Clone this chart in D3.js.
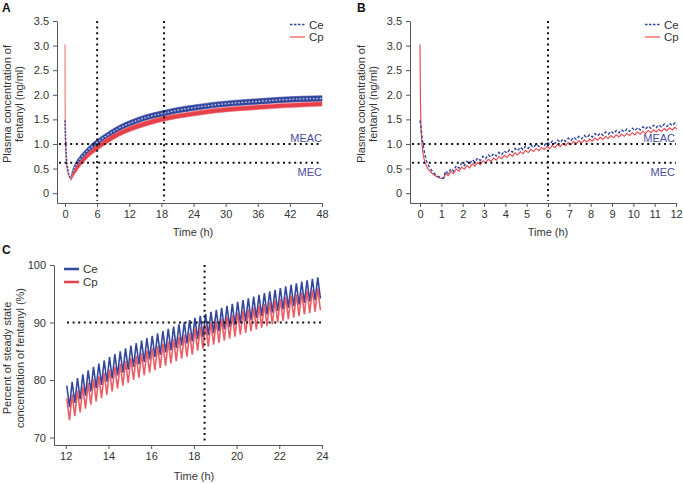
<!DOCTYPE html>
<html>
<head>
<meta charset="utf-8">
<script src="https://cdn.jsdelivr.net/npm/d3@7"></script>
<style>
  body { margin: 0; background: #fff; }
  svg { font-family: "Liberation Sans", Arial, sans-serif; }
  .axis path, .axis line { stroke: #555; stroke-width: 1; }
  .axis text { fill: #333; font-size: 11px; font-family: "Liberation Sans", Arial, sans-serif; }
</style>
</head>
<body>
<svg id="chart" width="683" height="484"></svg>
<script>
// ---- data ----
// first hour after the loading dose (panels A and B)
var earlyT  = [0, 0.02, 0.05, 0.1, 0.15, 0.22, 0.3, 0.4, 0.55, 0.7, 0.85, 1.0, 1.1];
var cpEarly = [3.02, 1.90, 1.25, 0.95, 0.78, 0.64, 0.55, 0.48, 0.41, 0.36, 0.32, 0.30, 0.30];
var ceEarly = [1.48, 1.42, 1.32, 1.12, 0.97, 0.80, 0.66, 0.56, 0.46, 0.39, 0.34, 0.31, 0.30];

// panel A: upper / lower edge of the oscillating band, 1.1 - 48 h
var aT    = [1.1, 1.5, 2, 3, 4, 6, 8, 10, 12, 15, 18, 21, 24, 28, 32, 36, 40, 44, 48];
var aCeHi = [0.34, 0.50, 0.62, 0.78, 0.90, 1.09, 1.24, 1.37, 1.47, 1.59, 1.67, 1.74, 1.79, 1.85, 1.89, 1.92, 1.95, 1.97, 1.98];
var aCeLo = [0.28, 0.40, 0.51, 0.67, 0.79, 0.98, 1.13, 1.26, 1.36, 1.48, 1.56, 1.63, 1.68, 1.74, 1.78, 1.81, 1.84, 1.86, 1.87];
var aCpHi = [0.30, 0.42, 0.52, 0.67, 0.79, 0.98, 1.13, 1.25, 1.35, 1.46, 1.55, 1.61, 1.66, 1.72, 1.76, 1.79, 1.82, 1.84, 1.86];
var aCpLo = [0.26, 0.34, 0.42, 0.57, 0.69, 0.87, 1.02, 1.15, 1.25, 1.36, 1.45, 1.52, 1.57, 1.63, 1.67, 1.70, 1.73, 1.75, 1.77];

// panel B: one peak and one trough per 15 min dose, starting 1.2 h
var bStart = 1.2, bEvery = 0.25;
var bCePeak   = [0.45, 0.50, 0.56, 0.61, 0.645, 0.68, 0.715, 0.75, 0.78, 0.805, 0.83, 0.86, 0.885, 0.91, 0.935, 0.96,
                 0.98, 1.00, 1.02, 1.04, 1.06, 1.08, 1.10, 1.12, 1.14, 1.155, 1.175, 1.19, 1.21, 1.225, 1.245, 1.26,
                 1.275, 1.29, 1.305, 1.32, 1.335, 1.35, 1.365, 1.38, 1.39, 1.405, 1.42, 1.43];
var bCeTrough = [0.40, 0.45, 0.51, 0.56, 0.595, 0.63, 0.665, 0.70, 0.73, 0.755, 0.78, 0.81, 0.835, 0.86, 0.885, 0.91,
                 0.93, 0.95, 0.97, 0.99, 1.01, 1.03, 1.05, 1.07, 1.09, 1.105, 1.125, 1.14, 1.16, 1.175, 1.195, 1.21,
                 1.225, 1.24, 1.255, 1.27, 1.285, 1.30, 1.315, 1.33, 1.34, 1.355, 1.37, 1.38];
var bCpPeak   = [0.40, 0.44, 0.49, 0.53, 0.56, 0.595, 0.625, 0.66, 0.69, 0.715, 0.745, 0.77, 0.795, 0.82, 0.845, 0.87,
                 0.89, 0.91, 0.93, 0.95, 0.97, 0.99, 1.01, 1.03, 1.05, 1.065, 1.085, 1.10, 1.12, 1.135, 1.155, 1.17,
                 1.185, 1.20, 1.215, 1.23, 1.245, 1.26, 1.275, 1.29, 1.30, 1.315, 1.33, 1.34];
var bCpTrough = [0.355, 0.395, 0.445, 0.485, 0.515, 0.55, 0.58, 0.615, 0.645, 0.67, 0.70, 0.725, 0.75, 0.775, 0.80, 0.825,
                 0.845, 0.865, 0.885, 0.905, 0.925, 0.945, 0.965, 0.985, 1.005, 1.02, 1.04, 1.055, 1.075, 1.09, 1.11, 1.125,
                 1.14, 1.155, 1.17, 1.185, 1.20, 1.215, 1.23, 1.245, 1.255, 1.27, 1.285, 1.295];

// panel C: percent of steady state, 12 - 24 h
var cStart = 12.05, cEvery = 0.25;
var cCePeak   = [79.0, 79.7, 80.35, 81.0, 81.7, 82.3, 82.85, 83.4, 84.0, 84.5, 85.0, 85.5,
                 86.0, 86.4, 86.85, 87.3, 87.7, 88.1, 88.5, 88.9, 89.3, 89.7, 90.05, 90.4,
                 90.8, 91.15, 91.5, 91.85, 92.2, 92.55, 92.9, 93.25, 93.6, 93.9, 94.2, 94.5,
                 94.8, 95.1, 95.4, 95.7, 96.0, 96.3, 96.55, 96.8, 97.1, 97.35, 97.6, 97.85];
var cCeTrough = [75.3, 76.0, 76.65, 77.3, 78.0, 78.6, 79.15, 79.7, 80.3, 80.8, 81.3, 81.8,
                 82.3, 82.7, 83.15, 83.6, 84.0, 84.4, 84.8, 85.2, 85.6, 86.0, 86.35, 86.7,
                 87.1, 87.45, 87.8, 88.15, 88.5, 88.85, 89.2, 89.55, 89.9, 90.2, 90.5, 90.8,
                 91.1, 91.4, 91.7, 92.0, 92.3, 92.6, 92.85, 93.1, 93.4, 93.65, 93.9, 94.15];
var cCpPeak   = [76.8, 77.5, 78.15, 78.8, 79.5, 80.1, 80.65, 81.2, 81.8, 82.3, 82.8, 83.3,
                 83.8, 84.2, 84.65, 85.1, 85.5, 85.9, 86.3, 86.7, 87.1, 87.5, 87.85, 88.2,
                 88.9, 89.25, 89.6, 89.95, 90.3, 90.65, 91.0, 91.35, 91.7, 92.0, 92.3, 92.6,
                 92.9, 93.2, 93.5, 93.8, 94.1, 94.4, 94.65, 94.9, 95.2, 95.45, 95.7, 95.95];
var cCpTrough = [73.0, 73.7, 74.35, 75.0, 75.7, 76.3, 76.85, 77.4, 78.0, 78.5, 79.0, 79.5,
                 80.0, 80.4, 80.85, 81.3, 81.7, 82.1, 82.5, 82.9, 83.3, 83.7, 84.05, 84.4,
                 85.1, 85.45, 85.8, 86.15, 86.5, 86.85, 87.2, 87.55, 87.9, 88.2, 88.5, 88.8,
                 89.1, 89.4, 89.7, 90.0, 90.3, 90.6, 90.85, 91.1, 91.4, 91.65, 91.9, 92.15];

// ticks and reference levels
var concTicks = [0, 0.5, 1.0, 1.5, 2.0, 2.5, 3.0, 3.5];
var aTimeTicks = [0, 6, 12, 18, 24, 30, 36, 42, 48];
var bTimeTicks = [0, 1, 2, 3, 4, 5, 6, 7, 8, 9, 10, 11, 12];
var cTimeTicks = [12, 14, 16, 18, 20, 22, 24];
var pctTicks = [70, 80, 90, 100];
var MEAC = 1.0, MEC = 0.62;
var aMarks = [6, 18.5], bMarks = [6], cMark = 18.5, cLevel = 90;

var BLUE = "#33479d", RED = "#e6414a", LABEL = "#4b4b9f";

var svg = d3.select("#chart");

function pairs(ts, vs) {
  return ts.map(function (t, i) { return [t, vs[i]]; });
}

// peak at each dose time, trough half a cycle later
function zigzag(start, every, peaks, troughs) {
  var pts = [];
  peaks.forEach(function (p, k) {
    pts.push([start + k * every, p]);
    pts.push([start + k * every + every / 2, troughs[k]]);
  });
  return pts;
}

function drawAxes(x, y, xTicks, yTicks, yFmt) {
  var xr = x.range(), yr = y.range();
  svg.append("g")
    .attr("class", "axis")
    .attr("transform", "translate(0," + yr[0] + ")")
    .call(d3.axisBottom(x).tickValues(xTicks).tickSize(4).tickSizeOuter(0).tickPadding(3));
  svg.append("g")
    .attr("class", "axis")
    .attr("transform", "translate(" + xr[0] + ",0)")
    .call(d3.axisLeft(y).tickValues(yTicks).tickSize(4).tickSizeOuter(0).tickPadding(4).tickFormat(yFmt));
}

function dotted(x1, y1, x2, y2) {
  svg.append("line")
    .attr("x1", x1).attr("y1", y1).attr("x2", x2).attr("y2", y2)
    .attr("stroke", "#111")
    .attr("stroke-width", 2)
    .attr("stroke-dasharray", "2,3.6");
}

function yTitle(x, yc, text) {
  svg.append("text")
    .attr("transform", "translate(" + x + "," + yc + ") rotate(-90)")
    .attr("text-anchor", "middle")
    .attr("font-size", "11px")
    .attr("fill", "#333")
    .text(text);
}

function plainText(x, y, text, opts) {
  opts = opts || {};
  svg.append("text")
    .attr("x", x).attr("y", y)
    .attr("text-anchor", opts.anchor || "start")
    .attr("font-size", opts.size || "11px")
    .attr("font-weight", opts.weight || "normal")
    .attr("fill", opts.fill || "#333")
    .text(text);
}

function legendRow(x, y, color, dash, width, label) {
  svg.append("line")
    .attr("x1", x).attr("x2", x + 15).attr("y1", y).attr("y2", y)
    .attr("stroke", color)
    .attr("stroke-width", width)
    .attr("stroke-dasharray", dash);
  plainText(x + 19, y + 4, label, { size: "11.5px" });
}

var concFmt = function (d) { return d === 0 ? "0" : d3.format(".1f")(d); };

// ---------------- Panel A ----------------
var xA = d3.scaleLinear().domain([-1.5, 48]).range([57, 322]);
var yA = d3.scaleLinear().domain([-0.2, 3.5]).range([203, 21]);
drawAxes(xA, yA, aTimeTicks, concTicks, concFmt);

var bandA = aT.map(function (t, i) {
  return { t: t, ceHi: aCeHi[i], ceLo: aCeLo[i], cpHi: aCpHi[i], cpLo: aCpLo[i] };
});

var lineA = d3.line().x(function (d) { return xA(d[0]); }).y(function (d) { return yA(d[1]); });

svg.append("path")
  .attr("d", lineA(pairs(earlyT, cpEarly)))
  .attr("fill", "none").attr("stroke", "#f08a8a").attr("stroke-width", 1.3);
svg.append("path")
  .attr("d", lineA(pairs(earlyT, ceEarly)))
  .attr("fill", "none").attr("stroke", BLUE).attr("stroke-width", 1.5)
  .attr("stroke-dasharray", "2,1.5");

svg.append("path")
  .datum(bandA)
  .attr("d", d3.area().curve(d3.curveMonotoneX)
    .x(function (d) { return xA(d.t); })
    .y0(function (d) { return yA(d.ceLo); })
    .y1(function (d) { return yA(d.ceHi); }))
  .attr("fill", BLUE).attr("stroke", BLUE).attr("stroke-width", 0.6);
// dashed pale centre line gives the blue band its dotted texture
svg.append("path")
  .datum(bandA)
  .attr("d", d3.line().curve(d3.curveMonotoneX)
    .x(function (d) { return xA(d.t); })
    .y(function (d) { return yA((d.ceHi + d.ceLo) / 2); }))
  .attr("fill", "none").attr("stroke", "#c9cfee").attr("stroke-width", 1.3)
  .attr("stroke-dasharray", "1.6,1.8");

svg.append("path")
  .datum(bandA)
  .attr("d", d3.area().curve(d3.curveMonotoneX)
    .x(function (d) { return xA(d.t); })
    .y0(function (d) { return yA(d.cpLo); })
    .y1(function (d) { return yA(d.cpHi); }))
  .attr("fill", RED).attr("stroke", "#ee6a70").attr("stroke-width", 0.6);

aMarks.forEach(function (t) { dotted(xA(t), 21, xA(t), 201); });
dotted(59, yA(MEAC), 322, yA(MEAC));
dotted(59, yA(MEC), 322, yA(MEC));
plainText(322, 142, "MEAC", { anchor: "end", fill: LABEL });
plainText(322, 176, "MEC", { anchor: "end", fill: LABEL });

legendRow(290, 24.5, BLUE, "2.5,1.5", 1.5, "Ce");
legendRow(290, 37, "#f07575", null, 1.5, "Cp");

yTitle(11, 104, "Plasma concentration of");
yTitle(23, 104, "fentanyl (ng/ml)");
plainText(193, 236, "Time (h)", { anchor: "middle" });
plainText(2, 12, "A", { size: "12px", weight: "bold", fill: "#111" });

// ---------------- Panel B ----------------
var xB = d3.scaleLinear().domain([-0.47, 12]).range([410, 676]);
var yB = d3.scaleLinear().domain([-0.2, 3.5]).range([203, 21]);
drawAxes(xB, yB, bTimeTicks, concTicks, concFmt);

svg.append("defs").append("clipPath").attr("id", "clipB")
  .append("rect").attr("x", 410).attr("y", 15).attr("width", 267).attr("height", 190);

var lineB = d3.line().x(function (d) { return xB(d[0]); }).y(function (d) { return yB(d[1]); });
var gB = svg.append("g").attr("clip-path", "url(#clipB)");

gB.append("path")
  .attr("d", lineB(pairs(earlyT, cpEarly).concat(zigzag(bStart, bEvery, bCpPeak, bCpTrough))))
  .attr("fill", "none").attr("stroke", RED).attr("stroke-width", 1.1);
gB.append("path")
  .attr("d", lineB(pairs(earlyT, ceEarly).concat(zigzag(bStart, bEvery, bCePeak, bCeTrough))))
  .attr("fill", "none").attr("stroke", BLUE).attr("stroke-width", 1.4)
  .attr("stroke-dasharray", "3,2");

bMarks.forEach(function (t) { dotted(xB(t), 21, xB(t), 201); });
dotted(412, yB(MEAC), 676, yB(MEAC));
dotted(412, yB(MEC), 676, yB(MEC));
plainText(675, 142, "MEAC", { anchor: "end", fill: LABEL });
plainText(675, 176, "MEC", { anchor: "end", fill: LABEL });

legendRow(645, 24.5, BLUE, "2.5,1.5", 1.5, "Ce");
legendRow(645, 37, "#f07575", null, 1.5, "Cp");

yTitle(365, 104, "Plasma concentration of");
yTitle(377, 104, "fentanyl (ng/ml)");
plainText(548, 236, "Time (h)", { anchor: "middle" });
plainText(357, 12, "B", { size: "12px", weight: "bold", fill: "#111" });

// ---------------- Panel C ----------------
var xC = d3.scaleLinear().domain([11.45, 24]).range([54, 322]);
var yC = d3.scaleLinear().domain([68.7, 100]).range([445, 265]);
drawAxes(xC, yC, cTimeTicks, pctTicks, d3.format("d"));

var lineC = d3.line().x(function (d) { return xC(d[0]); }).y(function (d) { return yC(d[1]); });

svg.append("path")
  .attr("d", lineC(zigzag(cStart, cEvery, cCePeak, cCeTrough)))
  .attr("fill", "none").attr("stroke", BLUE).attr("stroke-width", 1.6);
svg.append("path")
  .attr("d", lineC(zigzag(cStart, cEvery, cCpPeak, cCpTrough)))
  .attr("fill", "none").attr("stroke", RED).attr("stroke-width", 1.6)
  .attr("stroke-opacity", 0.85);

dotted(xC(cMark), 265, xC(cMark), 443);
dotted(67, yC(cLevel), 322, yC(cLevel));

legendRow(64, 269, BLUE, null, 2.5, "Ce");
legendRow(64, 282, RED, null, 2.5, "Cp");

yTitle(11, 358, "Percent of steady state");
yTitle(24, 358, "concentration of fentanyl (%)");
plainText(194, 480, "Time (h)", { anchor: "middle" });
plainText(2, 254, "C", { size: "12px", weight: "bold", fill: "#111" });
</script>
</body>
</html>
